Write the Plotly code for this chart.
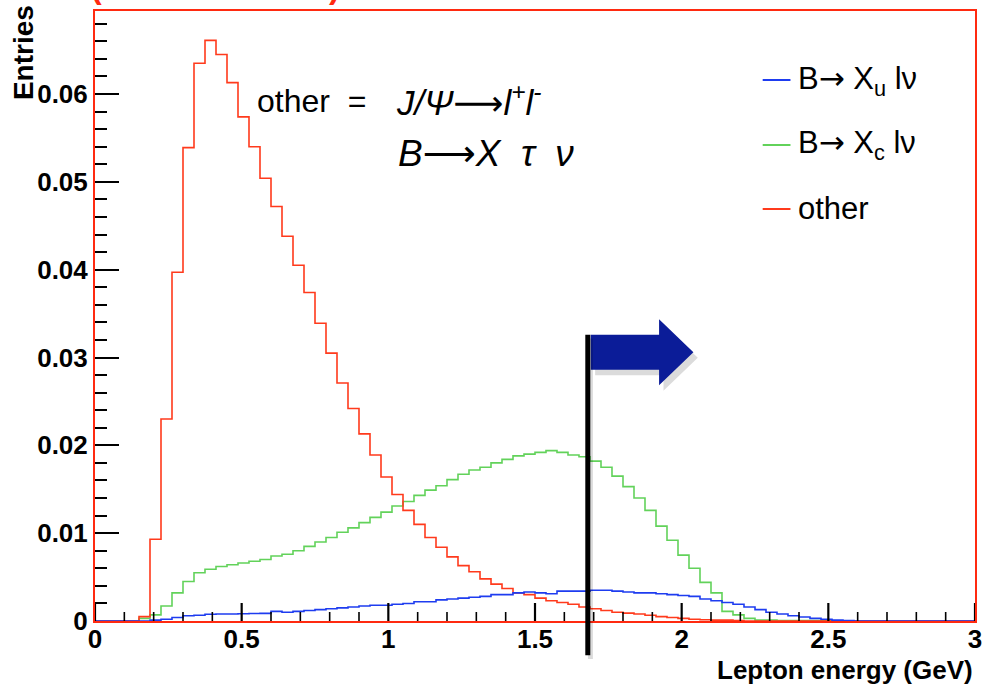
import plotly.graph_objects as go

# Lepton energy spectra, 80 bins from 0 to 3 GeV
E_MIN, E_MAX, N_BINS = 0.0, 3.0, 80
Y_MAX = 0.06945
E_CUT = 1.68

ARROW = "<span style=\"font-family:'DejaVu Sans'\">\u2192</span>"
LONG_ARROW = "<span style=\"font-family:'DejaVu Sans'\">\u27f6</span>"

labels = [f"B{ARROW} X<sub>u</sub> l\u03bd", f"B{ARROW} X<sub>c</sub> l\u03bd", "other"]
colors = ["#1e3cf0", "#62d25a", "#ff3a1c"]

# energy-axis tick positions (GeV)
x_major_ticks = [0.0, 0.5, 1.0, 1.5, 2.0, 2.5, 3.0]
x_minor_ticks = [0.1, 0.2, 0.3, 0.4, 0.6, 0.7, 0.8, 0.9, 1.1, 1.2, 1.3, 1.4, 1.6, 1.7, 1.8, 1.9,
                 2.1, 2.2, 2.3, 2.4, 2.6, 2.7, 2.8, 2.9]

xu_vals = [
    0, 0, 0, 0, 0, 0.0001, 0.0002, 0.0004, 0.0006, 0.00065,
    0.00076, 0.0008, 0.0008, 0.00083, 0.00085, 0.00087, 0.0011, 0.0010, 0.0011, 0.0012,
    0.0013, 0.0014, 0.0015, 0.0016, 0.0017, 0.0018, 0.0018, 0.0019, 0.0020, 0.0022,
    0.0022, 0.0024, 0.0025, 0.0026, 0.0027, 0.0028, 0.0030, 0.0030, 0.0032, 0.0033,
    0.0032, 0.0031, 0.0034, 0.0034, 0.0034, 0.0035, 0.0035, 0.0034, 0.0033, 0.0032,
    0.0032, 0.0031, 0.0030, 0.0029, 0.0028, 0.0025, 0.0023, 0.0021, 0.0019, 0.0016,
    0.0013, 0.0010, 0.0008, 0.0006, 0.00045, 0.0003, 0.0002, 0.0001, 0.00005, 0,
    0, 0, 0, 0, 0, 0, 0, 0, 0, 0,
]

xc_vals = [
    0, 0, 0, 0, 0.0003, 0.0007, 0.0017, 0.0032, 0.0045, 0.0055,
    0.0059, 0.0062, 0.0064, 0.0066, 0.0068, 0.0070, 0.0074, 0.0076, 0.0080, 0.0085,
    0.0090, 0.0095, 0.0101, 0.0106, 0.0112, 0.0118, 0.0124, 0.0131, 0.0136, 0.0143,
    0.0149, 0.0154, 0.0161, 0.0167, 0.0172, 0.0175, 0.0180, 0.0184, 0.0188, 0.0190,
    0.0192, 0.0194, 0.0192, 0.0189, 0.0187, 0.0182, 0.0175, 0.0165, 0.0153, 0.0140,
    0.0126, 0.0108, 0.0092, 0.0075, 0.0060, 0.0044, 0.0032, 0.0011, 0.0007, 0.0003,
    0.0001, 0.0001, 0.00005, 0.00005, 0.00005, 0.00005, 0.00005, 0, 0, 0,
    0, 0, 0, 0, 0, 0, 0, 0, 0, 0,
]

other_vals = [
    0, 0, 0, 0, 0.0005, 0.0093, 0.0230, 0.0397, 0.0539, 0.0635,
    0.0661, 0.0645, 0.0613, 0.0574, 0.0540, 0.0504, 0.0472, 0.0438, 0.0405, 0.0374,
    0.0339, 0.0305, 0.0271, 0.0242, 0.0213, 0.0189, 0.0164, 0.0144, 0.0126, 0.0110,
    0.0095, 0.0084, 0.0073, 0.0063, 0.0056, 0.0048, 0.0042, 0.0037, 0.0032, 0.0030,
    0.0026, 0.0023, 0.0021, 0.0019, 0.0016, 0.0014, 0.0012, 0.0010, 0.0009, 0.0008,
    0.00065, 0.0005, 0.0004, 0.0003, 0.0002, 0.00015, 0.0001, 0.0001, 0.00005, 0,
    0, 0, 0, 0, 0, 0, 0, 0, 0, 0,
    0, 0, 0, 0, 0, 0, 0, 0, 0, 0,
]

bin_w = (E_MAX - E_MIN) / N_BINS
edges = [E_MIN + i * bin_w for i in range(N_BINS + 1)]

W, H = 987, 688
ML, MR, MT, MB = 95, 5, 11, 67
PW, PH = W - ML - MR, H - MT - MB

fig = go.Figure()
for vals, col in [(xc_vals, colors[1]), (other_vals, colors[2]), (xu_vals, colors[0])]:
    fig.add_trace(go.Scatter(
        x=edges, y=list(vals) + [vals[-1]],
        mode="lines", line=dict(color=col, width=1.6, shape="hv"),
        showlegend=False, hoverinfo="skip",
    ))

# energy-axis tick marks pointing up into the frame
major_len = 18 * Y_MAX / PH
minor_len = 9 * Y_MAX / PH
for ticks, tlen, tw in [(x_major_ticks, major_len, 2.2), (x_minor_ticks, minor_len, 1.6)]:
    tx, ty = [], []
    for xt in ticks:
        tx += [xt, xt, None]
        ty += [0, tlen, None]
    fig.add_trace(go.Scatter(x=tx, y=ty, mode="lines", line=dict(color="black", width=tw),
                             showlegend=False, hoverinfo="skip", cliponaxis=False))


def px(x):
    return (x - E_MIN) / (E_MAX - E_MIN)


def py(y):
    return y / Y_MAX


def paper_x(pix):
    return (pix - ML) / PW


def paper_y(pix):
    return 1 - (pix - MT) / PH


bold = dict(family="Liberation Sans, Arial", size=26, color="black", weight="bold")

# cut marker: pole and arrow pointing to higher energies
y_mid, shaft_h, head_h = 0.0306, 0.00199, 0.00376
shaft_len, head_len = 0.233, 0.117
x0 = E_CUT + 0.01
x1 = x0 + shaft_len
x2 = x1 + head_len


def arrow_path(dx=0.0, dy=0.0):
    pts = [(x0, y_mid + shaft_h), (x1, y_mid + shaft_h), (x1, y_mid + head_h), (x2, y_mid),
           (x1, y_mid - head_h), (x1, y_mid - shaft_h), (x0, y_mid - shaft_h)]
    s = " L ".join(f"{px(a) + dx:.5f},{py(b) + dy:.5f}" for a, b in pts)
    return "M " + s + " Z"


shapes = [
    dict(type="path", xref="paper", yref="paper", path=arrow_path(0.005, -0.009),
         fillcolor="rgba(0,0,0,0.14)", line=dict(width=0)),
    dict(type="path", xref="paper", yref="paper", path=arrow_path(),
         fillcolor="#0b1c98", line=dict(width=0)),
    dict(type="line", xref="paper", yref="paper", x0=px(E_CUT) + 0.003, x1=px(E_CUT) + 0.003,
         y0=py(y_mid + shaft_h) - 0.006, y1=py(-0.0039) - 0.006,
         line=dict(color="rgba(0,0,0,0.14)", width=5)),
    dict(type="line", xref="paper", yref="paper", x0=px(E_CUT), x1=px(E_CUT),
         y0=py(y_mid + shaft_h), y1=py(-0.0039),
         line=dict(color="black", width=5)),
]

annotations = []
# legend entries
leg_y = [80, 145, 209]
for lab, col, ly in zip(labels, colors, leg_y):
    shapes.append(dict(type="line", xref="paper", yref="paper",
                       x0=paper_x(768), x1=paper_x(796), y0=paper_y(ly), y1=paper_y(ly),
                       line=dict(color=col, width=2)))
    annotations.append(dict(xref="paper", yref="paper", x=paper_x(802), y=paper_y(ly),
                            xanchor="left", yanchor="middle", text=lab, showarrow=False,
                            font=dict(family="Liberation Sans, Arial", size=31, color="black")))

# composition note
annotations += [
    dict(xref="paper", yref="paper", x=paper_x(256), y=paper_y(101), xanchor="left", yanchor="middle",
         text="other  =", showarrow=False,
         font=dict(family="Liberation Sans, Arial", size=32, color="black")),
    dict(xref="paper", yref="paper", x=paper_x(396), y=paper_y(101), xanchor="left", yanchor="middle",
         text=f"<i>J/\u03a8</i>{LONG_ARROW}<i>l<sup>+</sup>l<sup>-</sup></i>", showarrow=False,
         font=dict(family="Liberation Sans, Arial", size=35, color="black")),
    dict(xref="paper", yref="paper", x=paper_x(398), y=paper_y(154), xanchor="left", yanchor="middle",
         text=f"<i>B</i>{LONG_ARROW}<i>X  \u03c4  \u03bd</i>", showarrow=False,
         font=dict(family="Liberation Sans, Arial", size=37, color="black")),
    # axis titles
    dict(xref="paper", yref="paper", x=paper_x(982), y=paper_y(687), xanchor="right", yanchor="bottom",
         text="Lepton energy (GeV)", showarrow=False, font=bold),
    dict(xref="paper", yref="paper", x=paper_x(23), y=paper_y(3), xanchor="center", yanchor="top",
         text="Entries", textangle=-90, showarrow=False,
         font=dict(family="Liberation Sans, Arial", size=28, color="black", weight="bold")),
    # heading brackets clipped at the top edge
    dict(xref="paper", yref="paper", x=paper_x(97), y=paper_y(7), xanchor="center", yanchor="bottom",
         text="(", showarrow=False, font=dict(family="Liberation Sans, Arial", size=32, color="#ff2a10", weight="bold")),
    dict(xref="paper", yref="paper", x=paper_x(336), y=paper_y(7), xanchor="center", yanchor="bottom",
         text=")", showarrow=False, font=dict(family="Liberation Sans, Arial", size=32, color="#ff2a10", weight="bold")),
]

frame_red = "#ff2a10"
fig.update_layout(
    width=W, height=H,
    margin=dict(l=ML, r=MR, t=MT, b=MB, pad=0),
    paper_bgcolor="white", plot_bgcolor="white",
    shapes=shapes, annotations=annotations,
    xaxis=dict(range=[E_MIN, E_MAX], tickmode="array", tickvals=x_major_ticks,
               ticktext=[f"{v:g}" for v in x_major_ticks], showgrid=False, zeroline=False,
               showline=True, linecolor=frame_red, linewidth=2, mirror=True, ticks="",
               showticklabels=True, ticklabeloverflow="allow", ticklabelstandoff=-6,
               tickfont=bold),
    yaxis=dict(range=[0, Y_MAX], tickmode="linear", dtick=0.01, tick0=0, showgrid=False, zeroline=False,
               showline=True, linecolor=frame_red, linewidth=2, mirror=True,
               ticks="inside", ticklen=24, tickwidth=2, tickcolor="black", layer="above traces",
               minor=dict(dtick=0.002, tick0=0, ticks="inside", ticklen=12, tickwidth=1.5, tickcolor="black", showgrid=False),
               tickfont=bold),
)

fig.write_html("out.html")
